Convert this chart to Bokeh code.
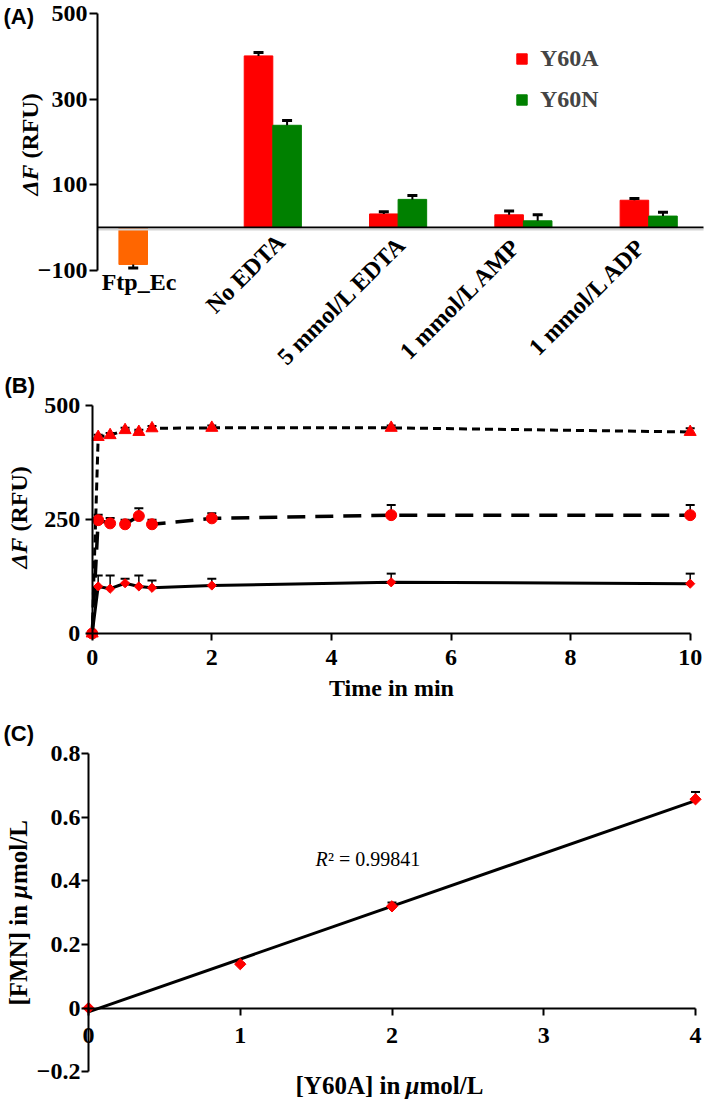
import numpy as np
from bokeh.plotting import figure
from bokeh.models import (ColumnDataSource, Whisker, TeeHead, Label, Legend,
                          LegendItem, FixedTicker, Range1d, LinearAxis)
from bokeh.layouts import column
from bokeh.embed import file_html
from bokeh.resources import INLINE

SERIF = "Liberation Serif"
SANS = "Liberation Sans"

# ---------------- data: panel A ----------------
a_categories = ["Ftp_Ec", "No EDTA", "5 mmol/L EDTA", "1 mmol/L AMP", "1 mmol/L ADP"]
a_ftp = [-86]
a_ftp_err = [8]
a_y60a = [401, 32, 30, 64]
a_y60a_err = [8, 5, 9, 4]
a_y60n = [239, 66, 16, 27]
a_y60n_err = [11, 9, 14, 9]
a_series = ["Y60A", "Y60N"]
a_yticks = [-100, 100, 300, 500]
a_ytick_labels = ["\u2212100", "100", "300", "500"]

# ---------------- data: panel B ----------------
b_time = [0, 0.1, 0.3, 0.55, 0.78, 1, 2, 5, 10]
b_tri = [0, 430, 434, 445, 441, 449, 450, 450, 441]
b_tri_err = [0, 5, 5, 5, 5, 5, 5, 5, 8]
b_circ = [0, 248, 241, 239, 257, 239, 252, 259, 259]
b_circ_err = [0, 12, 12, 10, 17, 10, 11, 22, 22]
b_diam = [0, 103, 98, 110, 103, 100, 105, 112, 109]
b_diam_err = [0, 24, 29, 10, 24, 16, 15, 19, 22]
b_xticks = [0, 2, 4, 6, 8, 10]
b_yticks = [0, 250, 500]

# ---------------- data: panel C ----------------
c_conc = [0, 1, 2, 4]
c_fmn = [0, 0.138, 0.32, 0.657]
c_fmn_err = [0, 0.004, 0.012, 0.023]
c_r2 = 0.99841
c_xticks = [0, 1, 2, 3, 4]
c_yticks = [-0.2, 0, 0.2, 0.4, 0.6, 0.8]
c_ytick_labels = ["\u22120.2", "0", "0.2", "0.4", "0.6", "0.8"]

RED = "#ff0000"
GREEN = "#008000"
ORANGE = "#ff6600"
W = 709


class Geo:
    """pixel <-> data mapping for a figure whose frame fills the whole canvas.
    Pixel y values are page pixels; `top` is the figure's top on the page."""
    def __init__(self, top, H, xs, xpx, x0, ys, ypx, y0):
        self.top, self.H = top, H
        self.xs, self.xpx, self.x0 = xs, xpx, x0
        self.ys, self.ypx, self.y0 = ys, ypx, y0

    def x(self, px):
        return self.x0 + (px - self.xpx) / self.xs

    def y(self, py):
        return self.y0 + (self.ypx - py) / self.ys

    def fig(self):
        p = figure(width=W, height=self.H, x_range=Range1d(self.x(0), self.x(W)),
                   y_range=Range1d(self.y(self.top + self.H), self.y(self.top)),
                   output_backend="svg", toolbar_location=None, min_border=0)
        p.grid.visible = False
        p.outline_line_color = None
        p.background_fill_color = "white"
        p.border_fill_color = "white"
        return p


def style_axis(ax, size, tick_out=7, standoff=4):
    ax.axis_line_width = 2
    ax.axis_line_color = "black"
    ax.major_tick_line_width = 2
    ax.major_tick_line_color = "black"
    ax.major_tick_out = tick_out
    ax.major_tick_in = 0
    ax.minor_tick_line_color = None
    ax.major_label_standoff = standoff
    ax.major_label_text_font = SERIF
    ax.major_label_text_font_style = "bold"
    ax.major_label_text_font_size = f"{size}px"
    ax.major_label_text_color = "black"
    ax.axis_label_text_font = SERIF
    ax.axis_label_text_font_style = "bold"
    ax.axis_label_text_font_size = f"{size}px"
    ax.axis_label_text_color = "black"


def bare_axis(ax, color, width):
    ax.ticker = FixedTicker(ticks=[])
    ax.axis_line_color = color
    ax.axis_line_width = width
    ax.major_tick_line_color = None
    ax.minor_tick_line_color = None


def text(p, g, t, px, py, size, style="bold", font=SERIF, angle=0.0, align="left",
         baseline="middle", x_offset=0):
    p.add_layout(Label(x=g.x(px), y=g.y(py), x_units="data", y_units="data", text=t,
                       angle=angle, text_align=align, text_baseline=baseline,
                       text_font=font, text_font_style=style, text_font_size=f"{size}px",
                       text_color="black", x_offset=x_offset))


# ================= Panel A =================
ga = Geo(0, 372, 125.3, 147, 0, 0.4283, 13, 500)
pa = ga.fig()
a_axis_x = -0.4      # y-axis position (category units)
a_axis_end = 4.44    # right end of the zero line
style_axis(pa.yaxis[0], 24, 8, 2)
pa.yaxis.fixed_location = a_axis_x
pa.yaxis.bounds = (a_yticks[0], a_yticks[-1])
pa.yaxis.ticker = FixedTicker(ticks=a_yticks)
pa.yaxis.major_label_overrides = dict(zip(a_yticks, a_ytick_labels))

# faint shadow under the zero line, then the zero line itself
shadow = LinearAxis(fixed_location=-4, bounds=(a_axis_x, a_axis_end))
bare_axis(shadow, "#d4d4d4", 2)
pa.add_layout(shadow, "below")
xa = pa.xaxis[0]
xa.fixed_location = 0
xa.bounds = (a_axis_x, a_axis_end)
bare_axis(xa, "black", 2)

bw = 0.228
idx = np.arange(1, len(a_categories))
src_ftp = ColumnDataSource(dict(x=[0 - bw / 2], top=a_ftp))
src_a = ColumnDataSource(dict(x=idx - bw / 2, top=a_y60a))
src_n = ColumnDataSource(dict(x=idx + bw / 2, top=a_y60n))
pa.vbar(x="x", top="top", bottom=0, width=bw, source=src_ftp, color=ORANGE)
ra = pa.vbar(x="x", top="top", bottom=0, width=bw, source=src_a, color=RED)
rn = pa.vbar(x="x", top="top", bottom=0, width=bw, source=src_n, color=GREEN)

err_up = ColumnDataSource(dict(
    x=list(idx - bw / 2) + list(idx + bw / 2),
    lo=a_y60a + a_y60n,
    hi=[v + e for v, e in zip(a_y60a, a_y60a_err)] + [v + e for v, e in zip(a_y60n, a_y60n_err)]))
pa.add_layout(Whisker(source=err_up, base="x", lower="lo", upper="hi", dimension="height",
                      line_color="black", line_width=2, lower_head=None,
                      upper_head=TeeHead(size=10, line_width=3, line_color="black"),
                      level="overlay"))
err_dn = ColumnDataSource(dict(x=[0 - bw / 2], lo=[a_ftp[0] - a_ftp_err[0]], hi=a_ftp))
pa.add_layout(Whisker(source=err_dn, base="x", lower="lo", upper="hi", dimension="height",
                      line_color="black", line_width=2, upper_head=None,
                      lower_head=TeeHead(size=10, line_width=3, line_color="black"),
                      level="overlay"))

legend = Legend(items=[LegendItem(label=a_series[0], renderers=[ra]),
                       LegendItem(label=a_series[1], renderers=[rn])],
                location=(515, 372 - 113), orientation="vertical")
legend.background_fill_alpha = 0
legend.border_line_color = None
legend.label_text_font = SERIF
legend.label_text_font_style = "bold"
legend.label_text_font_size = "24px"
legend.glyph_width = 13
legend.glyph_height = 13
legend.label_standoff = 12
legend.spacing = 14
legend.padding = 0
legend.margin = 0
legend.label_height = 24
pa.add_layout(legend)

# category labels: centre positions (page pixels)
a_label_px = [(138.5, 281), (245, 273), (341, 300), (460, 298), (587, 296)]
for i, cat in enumerate(a_categories):
    ang = 0.0 if i == 0 else np.pi / 4
    text(pa, ga, cat, a_label_px[i][0], a_label_px[i][1], 24, angle=ang, align="center")

text(pa, ga, "(A)", 3, 16, 22, font=SANS)
text(pa, ga, "\u0394F", 29, 195, 24, style="bold italic", angle=np.pi / 2)
text(pa, ga, "(RFU)", 29, 158, 24, angle=np.pi / 2)

# ================= Panel B =================
gb = Geo(372, 333, 59.8, 91.7, 0, 0.457, 633, 0)
pb = gb.fig()
style_axis(pb.xaxis[0], 24, 7, 9)
style_axis(pb.yaxis[0], 24, 7, 5)
pb.xaxis.fixed_location = 0
pb.yaxis.fixed_location = 0
pb.xaxis.bounds = (b_xticks[0], b_xticks[-1])
pb.yaxis.bounds = (b_yticks[0], b_yticks[-1])
pb.xaxis.ticker = FixedTicker(ticks=b_xticks)
pb.yaxis.ticker = FixedTicker(ticks=b_yticks)
pb.xaxis.axis_label = "Time in min"
pb.xaxis.axis_label_standoff = 7

series_b = [
    (b_tri, b_tri_err, "8 5", 3, "triangle", 12, 0.0),
    (b_circ, b_circ_err, "18 10", 3.5, "circle", 11, 0.0),
    (b_diam, b_diam_err, "solid", 3, "square", 6.5, np.pi / 4),
]
for vals, errs, dash, lw, mk, sz, ang in series_b:
    src = ColumnDataSource(dict(x=b_time, y=vals, hi=[v + e for v, e in zip(vals, errs)]))
    pb.add_layout(Whisker(source=src, base="x", lower="y", upper="hi", dimension="height",
                          line_color="black", line_width=1.5, lower_head=None,
                          upper_head=TeeHead(size=9, line_width=2, line_color="black")))
    pb.line("x", "y", source=src, line_color="black", line_width=lw, line_dash=dash)
    pb.scatter("x", "y", source=src, marker=mk, size=sz, angle=ang, color=RED)

text(pb, gb, "(B)", 4, 385, 22, font=SANS)
text(pb, gb, "\u0394F", 18.5, 568, 24, style="bold italic", angle=np.pi / 2)
text(pb, gb, "(RFU)", 18.5, 531, 24, angle=np.pi / 2)

# ================= Panel C =================
gc = Geo(705, 395, 151.75, 88, 0, 317.7, 1007.5, 0)
pc = gc.fig()
style_axis(pc.xaxis[0], 24, 7, 13)
style_axis(pc.yaxis[0], 24, 7, 1)
pc.xaxis.fixed_location = 0
pc.yaxis.fixed_location = 0
pc.xaxis.bounds = (c_xticks[0], c_xticks[-1])
pc.yaxis.bounds = (c_yticks[0], c_yticks[-1])
pc.xaxis.ticker = FixedTicker(ticks=c_xticks)
pc.yaxis.ticker = FixedTicker(ticks=c_yticks)
pc.yaxis.major_label_overrides = dict(zip(c_yticks, c_ytick_labels))

slope, intercept = np.polyfit(c_conc, c_fmn, 1)
fit_x = [min(c_conc), max(c_conc)]
fit_y = [slope * v + intercept for v in fit_x]
pc.line(fit_x, fit_y, line_color="black", line_width=3)

src_c = ColumnDataSource(dict(x=c_conc, y=c_fmn, hi=[v + e for v, e in zip(c_fmn, c_fmn_err)]))
pc.add_layout(Whisker(source=src_c, base="x", lower="y", upper="hi", dimension="height",
                      line_color="black", line_width=1.5, lower_head=None,
                      upper_head=TeeHead(size=9, line_width=2, line_color="black")))
pc.scatter("x", "y", source=src_c, marker="square", size=8, angle=np.pi / 4, color=RED)

text(pc, gc, "R", 315, 858, 20, style="italic")
text(pc, gc, f"\u00b2 = {c_r2}", 315, 858, 20, style="normal", x_offset=12.5)

text(pc, gc, "(C)", 3, 733, 22, font=SANS)
text(pc, gc, "[FMN] in ", 17.5, 1005, 25, angle=np.pi / 2)
text(pc, gc, "\u03bc", 17.5, 898, 25, style="bold italic", angle=np.pi / 2)
text(pc, gc, "mol/L", 17.5, 883.5, 25, angle=np.pi / 2)
text(pc, gc, "[Y60A] in ", 295, 1085, 25)
text(pc, gc, "\u03bc", 405, 1085, 25, style="bold italic")
text(pc, gc, "mol/L", 419, 1085, 25)

layout = column(pa, pb, pc)
open("out.html", "w").write(file_html(layout, INLINE))
